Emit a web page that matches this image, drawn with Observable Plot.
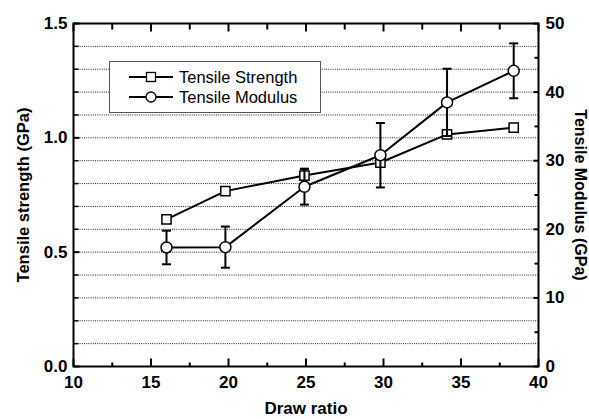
<!DOCTYPE html>
<html><head><meta charset="utf-8">
<script src="https://cdn.jsdelivr.net/npm/d3@7"></script>
<script src="https://cdn.jsdelivr.net/npm/@observablehq/plot@0.6"></script>
<style>
body{margin:0;background:#fff;}
#wrap{position:relative;width:589px;height:419px;}
#legend{position:absolute;left:109px;top:61px;width:212px;height:52px;border:1px solid #555;background:#fff;box-sizing:border-box;}
#legend svg{display:block;}
</style></head><body><div id="wrap"><div id="legend"></div></div>
<script>
// ---- data ----
const drawRatio   = [16, 19.8, 24.9, 29.8, 34.1, 38.4];
const strength    = [0.643, 0.767, 0.835, 0.892, 1.015, 1.045];   // GPa (left axis)
const strengthErr = [0, 0, 0.03, 0, 0, 0];
const modulus     = [17.35, 17.4, 26.2, 30.8, 38.5, 43.1];         // GPa (right axis)
const modulusErr  = [2.45, 3.0, 2.6, 4.7, 4.9, 4.0];
const seriesNames = ["Tensile Strength", "Tensile Modulus"];

// ---- scales / ticks ----
const xDomain  = [10, 40];
const xMajor   = [10, 15, 20, 25, 30, 35, 40];
const xMinor   = [12.5, 17.5, 22.5, 27.5, 32.5, 37.5];
const yDomain  = [0, 1.5];
const yMajor   = [0, 0.5, 1.0, 1.5];
const yMinor   = [0.1, 0.2, 0.3, 0.4, 0.6, 0.7, 0.8, 0.9, 1.1, 1.2, 1.3, 1.4];
const yGrid    = [0.1, 0.2, 0.3, 0.4, 0.5, 0.6, 0.7, 0.8, 0.9, 1.0, 1.1, 1.2, 1.3, 1.4];
const y2Domain = [0, 50];
const y2Major  = [0, 10, 20, 30, 40, 50];
const y2Minor  = [5, 15, 25, 35, 45];
const titles = {x: "Draw ratio", y: "Tensile strength (GPa)", y2: "Tensile Modulus (GPa)"};

const k = yDomain[1] / y2Domain[1];
const toLeft = v => v * k;

const rows = drawRatio.map((x, i) => ({
  x, s: strength[i], se: strengthErr[i], m: toLeft(modulus[i]), me: toLeft(modulusErr[i])
}));
const sErrRows = rows.filter(d => d.se > 0);

const cap = {draw(ctx) { ctx.moveTo(-4.5, 0); ctx.lineTo(4.5, 0); }};
// inward tick symbols (dx, dy direction, length)
const tickSym = (dx, dy, len) => ({draw(ctx) { ctx.moveTo(0, 0); ctx.lineTo(dx * len, dy * len); }});
const font = "'Liberation Sans', Arial, sans-serif";
const tickMarks = (vals, axis, len, sw) => {
  const opts = {stroke: "black", strokeWidth: sw, fill: "none"};
  if (axis === "left")   return Plot.dot(vals, {...opts, x: () => xDomain[0], y: d => d, symbol: tickSym(1, 0, len)});
  if (axis === "right")  return Plot.dot(vals, {...opts, x: () => xDomain[1], y: d => toLeft(d), symbol: tickSym(-1, 0, len)});
  if (axis === "bottom") return Plot.dot(vals, {...opts, x: d => d, y: () => yDomain[0], symbol: tickSym(0, -1, len)});
  return Plot.dot(vals, {...opts, x: d => d, y: () => yDomain[1], symbol: tickSym(0, 1, len)});
};

const chart = Plot.plot({
  width: 589, height: 419,
  marginLeft: 73, marginRight: 51, marginTop: 23, marginBottom: 53,
  x: {domain: xDomain, label: null},
  y: {domain: yDomain, label: null},
  style: {fontFamily: font, fontSize: "17px", fontWeight: "bold", color: "black", background: "white"},
  marks: [
    Plot.ruleY(yGrid, {stroke: "#222", strokeWidth: 1, strokeDasharray: "1,1.2"}),
    // axis labels
    Plot.axisY(yMajor, {anchor: "left", tickSize: 0, tickPadding: 6, tickFormat: d => d.toFixed(1), label: null}),
    Plot.axisY(y2Major.map(toLeft), {anchor: "right", tickSize: 0, tickPadding: 7, tickFormat: d => String(Math.round(d / k)), label: null}),
    Plot.axisX(xMajor, {anchor: "bottom", tickSize: 0, tickPadding: 9, label: null}),
    // inward ticks
    tickMarks(yMajor, "left", 6, 2),
    tickMarks(yMinor, "left", 5, 1.5),
    tickMarks(y2Major, "right", 5, 2),
    tickMarks(y2Minor, "right", 4, 2),
    tickMarks(xMajor, "bottom", 8, 2),
    tickMarks(xMinor, "bottom", 4, 2),
    tickMarks(xMajor, "top", 8, 2),
    tickMarks(xMinor, "top", 6, 2),
    Plot.frame({stroke: "black", strokeWidth: 2}),
    // strength series
    Plot.line(rows, {x: "x", y: "s", stroke: "black", strokeWidth: 2}),
    Plot.ruleX(sErrRows, {x: "x", y1: d => d.s - d.se, y2: d => d.s + d.se, stroke: "black", strokeWidth: 2}),
    Plot.dot(sErrRows, {x: "x", y: d => d.s + d.se, symbol: cap, stroke: "black", strokeWidth: 2, fill: "none"}),
    Plot.dot(rows, {x: "x", y: "s", symbol: "square", r: 5.2, fill: "white", stroke: "black", strokeWidth: 1.5}),
    // modulus series
    Plot.line(rows, {x: "x", y: "m", stroke: "black", strokeWidth: 2}),
    Plot.ruleX(rows, {x: "x", y1: d => d.m - d.me, y2: d => d.m + d.me, stroke: "black", strokeWidth: 2}),
    Plot.dot(rows, {x: "x", y: d => d.m + d.me, symbol: cap, stroke: "black", strokeWidth: 2, fill: "none"}),
    Plot.dot(rows, {x: "x", y: d => d.m - d.me, symbol: cap, stroke: "black", strokeWidth: 2, fill: "none"}),
    Plot.dot(rows, {x: "x", y: "m", symbol: "circle", r: 5.5, fill: "white", stroke: "black", strokeWidth: 1.5}),
    // axis titles
    Plot.text([titles.y], {text: d => d, frameAnchor: "left", textAnchor: "middle", rotate: -90, dx: -50, fontSize: 16.5, fontWeight: "bold", fill: "black"}),
    Plot.text([titles.y2], {text: d => d, frameAnchor: "right", textAnchor: "middle", rotate: 90, dx: 42, fontSize: 16, fontWeight: "bold", fill: "black"}),
    Plot.text([titles.x], {text: d => d, frameAnchor: "bottom", textAnchor: "middle", dy: 47, fontSize: 17, fontWeight: "bold", fill: "black"})
  ]
});
document.getElementById("wrap").insertBefore(chart, document.getElementById("legend"));

// legend
const NS = "http://www.w3.org/2000/svg";
const lsvg = document.createElementNS(NS, "svg");
lsvg.setAttribute("width", 210); lsvg.setAttribute("height", 50);
lsvg.style.fontFamily = font;
seriesNames.forEach((name, i) => {
  const cy = 15 + i * 20;
  const g = document.createElementNS(NS, "g");
  const line = document.createElementNS(NS, "line");
  line.setAttribute("x1", 19); line.setAttribute("x2", 63);
  line.setAttribute("y1", cy); line.setAttribute("y2", cy);
  line.setAttribute("stroke", "black"); line.setAttribute("stroke-width", 2);
  g.appendChild(line);
  let m;
  if (i === 0) {
    m = document.createElementNS(NS, "rect");
    m.setAttribute("x", 41 - 4.5); m.setAttribute("y", cy - 4.5);
    m.setAttribute("width", 9); m.setAttribute("height", 9);
  } else {
    m = document.createElementNS(NS, "circle");
    m.setAttribute("cx", 41); m.setAttribute("cy", cy); m.setAttribute("r", 5);
  }
  m.setAttribute("fill", "white"); m.setAttribute("stroke", "black"); m.setAttribute("stroke-width", 1.3);
  g.appendChild(m);
  const t = document.createElementNS(NS, "text");
  t.setAttribute("x", 69); t.setAttribute("y", cy);
  t.setAttribute("dy", "0.35em");
  t.setAttribute("font-size", 16.5);
  t.textContent = name;
  g.appendChild(t);
  lsvg.appendChild(g);
});
document.getElementById("legend").appendChild(lsvg);
</script></body></html>
